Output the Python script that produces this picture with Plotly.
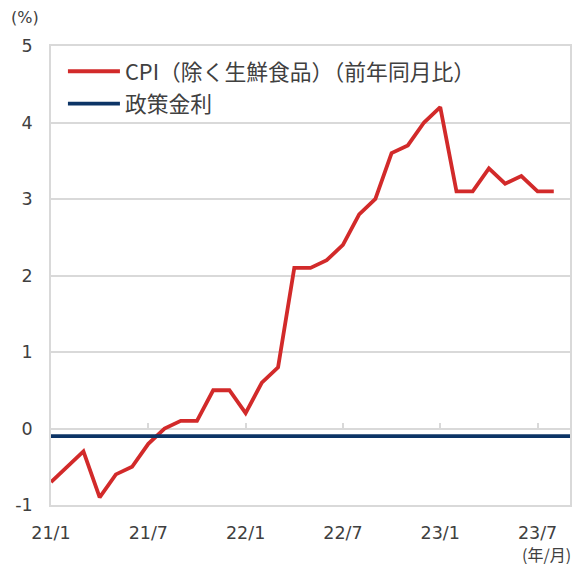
import plotly.graph_objects as go

months = [f"{y}/{m}" for y in (21, 22, 23) for m in range(1, 13)][:33]
cpi = [-0.7, -0.5, -0.3, -0.9, -0.6, -0.5, -0.2, 0.0, 0.1, 0.1, 0.5, 0.5,
       0.2, 0.6, 0.8, 2.1, 2.1, 2.2, 2.4, 2.8, 3.0, 3.6, 3.7, 4.0,
       4.2, 3.1, 3.1, 3.4, 3.2, 3.3, 3.1, 3.1]
policy = [-0.1] * 33
tick_labels = ["21/1", "21/7", "22/1", "22/7", "23/1", "23/7"]
y_ticks = [-1, 0, 1, 2, 3, 4, 5]
y_tick_labels = ["-1", "0", "1", "2", "3", "4", "5"]

cpi_name = "CPI（除く生鮮食品）（前年同月比）"
policy_name = "政策金利"

RED = "#D22A2A"
BLUE = "#0C3466"
GRID = "#D9D9D9"
TXT = "#404040"
FONT = "DejaVu Sans, Noto Sans CJK JP, sans-serif"
JFONT = "Noto Sans CJK JP, DejaVu Sans, sans-serif"

fig = go.Figure()
fig.add_trace(go.Scatter(x=months[:len(cpi)], y=cpi, mode="lines", name=cpi_name,
                         line=dict(color=RED, width=3.8), legendgroup="a"))
fig.add_trace(go.Scatter(x=months, y=policy, mode="lines", name=policy_name,
                         line=dict(color=BLUE, width=3.8), legendgroup="b",
                         xaxis="x2"))

fig.update_layout(
    width=579, height=564,
    margin=dict(l=51, r=9, t=46, b=59, autoexpand=False),
    plot_bgcolor="white", paper_bgcolor="white",
    font=dict(family=FONT, size=17, color=TXT),
    xaxis=dict(type="category", categoryorder="array", categoryarray=months,
               range=[0, 32], tickmode="array", tickvals=tick_labels, ticktext=tick_labels,
               showgrid=False, zeroline=False, showline=True, linecolor=GRID, linewidth=1.5,
               mirror=True, ticks="", ticklabelstandoff=11, automargin=False,
               tickfont=dict(family=FONT, size=17.5, color=TXT)),
    xaxis2=dict(type="category", categoryorder="array", categoryarray=months,
                range=[0, 32], matches="x", overlaying="x", anchor="free", position=1/6,
                tickmode="array", tickvals=tick_labels, showticklabels=False,
                ticks="inside", ticklen=6, tickcolor=GRID, tickwidth=1.5,
                showgrid=False, zeroline=False, showline=False, automargin=False),
    yaxis=dict(range=[-1, 5], tickvals=y_ticks, ticktext=y_tick_labels,
               showgrid=True, gridcolor=GRID, gridwidth=1.5,
               zeroline=False, showline=True, linecolor=GRID, linewidth=1.5, mirror=True,
               ticks="", ticklabelstandoff=13, automargin=False,
               tickfont=dict(family=FONT, size=17.5, color=TXT)),
    legend=dict(x=0.023, y=0.99, xanchor="left", yanchor="top",
                bgcolor="rgba(0,0,0,0)", font=dict(family=JFONT, size=21.8, color=TXT),
                traceorder="grouped", tracegroupgap=1, itemwidth=52),
    showlegend=True,
    annotations=[
        dict(text="(%)", xref="paper", yref="paper", x=(9 - 51) / 519, y=1.0, yshift=29,
             xanchor="left", yanchor="middle", showarrow=False,
             font=dict(family=FONT, size=16, color=TXT)),
        dict(text="(年/月)", xref="paper", yref="paper", x=(573 - 51) / 519, y=0, yshift=-49,
             xanchor="right", yanchor="middle", showarrow=False,
             font=dict(family=JFONT, size=16, color=TXT)),
    ],
)

fig.write_html("out.html", config={"displayModeBar": False},
               post_script="document.body.style.margin='0';document.body.style.overflow='hidden';")
